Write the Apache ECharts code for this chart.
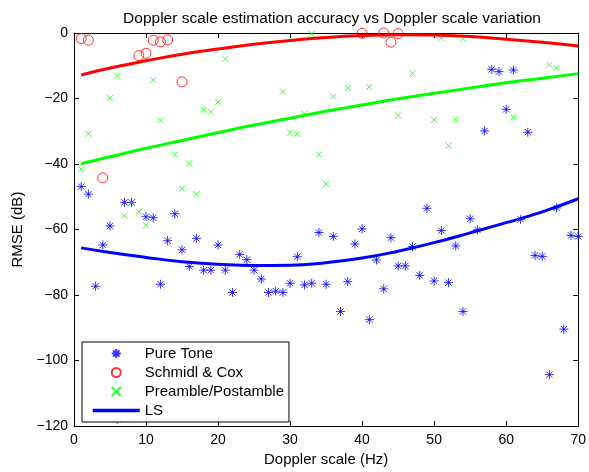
<!DOCTYPE html>
<html>
<head>
<meta charset="utf-8">
<script src="https://cdn.jsdelivr.net/npm/echarts@6/dist/echarts.min.js"></script>
<style>html,body{margin:0;padding:0;background:#fff}#c{width:589px;height:472px}</style>
</head>
<body>
<div id="c"></div>
<script>
// ---- data ----
const pureTone = [[1,-46.9],[2,-49.2],[3,-77.3],[4,-64.7],[5,-58.9],[6,-117.9],[7,-51.7],[8,-51.7],[10,-56.1],[11,-56.4],[12,-76.7],[13,-63.4],[14,-55.2],[15,-66.2],[16,-71.3],[17,-62.7],[18,-72.4],[19,-72.4],[20,-64.7],[21,-72.4],[22,-79.2],[23,-67.6],[24,-69.2],[25,-72.4],[26,-75.1],[27,-79.2],[28,-78.8],[29,-79.2],[30,-76.4],[31,-68.3],[32,-76.9],[33,-76.4],[34,-60.9],[35,-76.7],[36,-62.1],[37,-85],[38,-75.9],[39,-64.4],[40,-59.8],[41,-87.5],[42,-69.3],[43,-78.1],[44,-62.5],[45,-71.1],[46,-71.1],[47,-65.2],[48,-74],[49,-53.5],[50,-75.7],[51,-60.3],[52,-76.2],[53,-65],[54,-85],[55,-56.7],[56,-60.1],[57,-29.9],[58,-11.1],[59,-11.8],[60,-23.3],[61,-11.3],[62,-56.9],[63,-30.3],[64,-67.9],[65,-68.2],[66,-104.3],[67,-53.4],[68,-90.4],[69,-61.8],[70,-62.1]];
const schmidlCox = [[1,-1.7],[2,-2.2],[4,-44.2],[9,-6.9],[10,-6.2],[11,-2.2],[12,-2.7],[13,-2.1],[15,-14.9],[40,-0.1],[43,0],[44,-2.8],[45,-0.2]];
const preamble = [[1,-41.6],[2,-30.8],[5,-19.9],[6,-13],[7,-55.8],[8,-51.8],[9,-54.6],[10,-58.7],[11,-14.4],[12,-26.6],[14,-37.1],[15,-47.5],[16,-39.8],[17,-49.2],[18,-23.4],[19,-24],[20,-21.1],[21,-7.9],[29,-17.9],[30,-30.4],[31,-30.8],[32,-24.7],[33,-0.3],[34,-37.1],[35,-46.1],[36,-19.4],[38,-16.8],[41,-16.4],[45,-25.2],[47,-12.3],[50,-26.5],[51,-1.6],[52,-34.4],[53,-26.5],[54,-1.7],[61,-25.8],[66,-9.7],[67,-10.7]];
// LS fitted curves
const lsX = [1,5,10,15,20,25,30,35,40,45,50,55,60,65,70];
const lsPure = [-65.6,-67.0,-68.5,-69.8,-70.6,-71.0,-70.9,-70.1,-68.7,-66.6,-64.0,-61.0,-57.9,-54.6,-50.6];
const lsSchmidl = [-12.8,-10.7,-8.5,-6.5,-4.9,-3.4,-2.3,-1.4,-0.8,-0.5,-0.6,-1.1,-1.9,-2.8,-4.0];
const lsPreamble = [-39.9,-37.8,-35.2,-32.8,-30.4,-28.1,-26.0,-23.9,-22.0,-20.1,-18.4,-16.8,-15.2,-13.8,-12.4];
const xTicks = [0,10,20,30,40,50,60,70];
const yTicks = [-120,-100,-80,-60,-40,-20,0];

const FONT = 'Liberation Sans, Arial, Helvetica, sans-serif';
const zip = (xs, ys) => xs.map((x, i) => [x, ys[i]]);
const fmt = v => String(v).replace('-', '\u2212');

const asterisk = 'path://M0,-1L0,1M-1,0L1,0M-0.7,-0.7L0.7,0.7M-0.7,0.7L0.7,-0.7';
const cross = 'path://M-1,-1L1,1M-1,1L1,-1';

const axisCommon = {
  axisLine: { show: true, onZero: false, lineStyle: { color: '#000', width: 1 } },
  axisTick: { show: true, inside: true, length: 5, lineStyle: { color: '#000' } },
  splitLine: { show: false },
};

const chart = echarts.init(document.getElementById('c'), null, { renderer: 'canvas' });
chart.setOption({
  animation: false,
  backgroundColor: '#fff',
  title: {
    text: 'Doppler scale estimation accuracy vs Doppler scale variation',
    left: 327, textAlign: 'center', top: 6,
    textStyle: { fontFamily: FONT, fontSize: 15.5, fontWeight: 'normal', color: '#000' }
  },
  grid: { left: 74, right: 9, top: 33, bottom: 41, containLabel: false },
  xAxis: [
    Object.assign({}, axisCommon, {
      type: 'value', min: xTicks[0], max: xTicks[xTicks.length - 1], interval: 10,
      position: 'bottom',
      name: 'Doppler scale (Hz)', nameLocation: 'middle', nameGap: 25,
      nameTextStyle: { fontFamily: FONT, fontSize: 15, color: '#000' },
      axisLabel: { fontFamily: FONT, fontSize: 14, color: '#000', margin: 7, formatter: fmt }
    }),
    Object.assign({}, axisCommon, {
      type: 'value', min: xTicks[0], max: xTicks[xTicks.length - 1], interval: 10,
      position: 'top', axisLabel: { show: false }
    })
  ],
  yAxis: [
    Object.assign({}, axisCommon, {
      type: 'value', min: yTicks[0], max: yTicks[yTicks.length - 1], interval: 20,
      position: 'left',
      name: 'RMSE (dB)', nameLocation: 'middle', nameGap: 47,
      nameTextStyle: { fontFamily: FONT, fontSize: 15, color: '#000' },
      axisLabel: { fontFamily: FONT, fontSize: 14, color: '#000', margin: 6, formatter: fmt }
    }),
    Object.assign({}, axisCommon, {
      type: 'value', min: yTicks[0], max: yTicks[yTicks.length - 1], interval: 20,
      position: 'right', axisLabel: { show: false }
    })
  ],
  legend: {
    orient: 'vertical', left: 82, top: 342,
    padding: [2, 5, 2, 9],
    itemWidth: 47, itemHeight: 9, itemGap: 0,
    backgroundColor: '#fff', borderColor: '#000', borderWidth: 1,
    textStyle: { fontFamily: FONT, fontSize: 15, color: '#000', lineHeight: 19 },
    data: [
      'Pure Tone', 'Schmidl & Cox', 'Preamble/Postamble',
      { name: 'LS', itemStyle: { opacity: 0 }, lineStyle: { width: 3.5 } }
    ]
  },
  series: [
    {
      name: 'Pure Tone', type: 'scatter', data: pureTone, clip: false,
      symbol: asterisk, symbolSize: 9,
      itemStyle: { color: 'rgba(0,0,0,0)', borderColor: '#0000ff', borderWidth: 1 }
    },
    {
      name: 'Schmidl & Cox', type: 'scatter', data: schmidlCox, clip: false,
      symbol: 'circle', symbolSize: 10,
      itemStyle: { color: 'rgba(0,0,0,0)', borderColor: '#ff0000', borderWidth: 1 }
    },
    {
      name: 'Preamble/Postamble', type: 'scatter', data: preamble, clip: false,
      symbol: cross, symbolSize: 6,
      itemStyle: { color: 'rgba(0,0,0,0)', borderColor: '#00ff00', borderWidth: 1 }
    },
    {
      name: 'LS', type: 'line', data: zip(lsX, lsPure), smooth: true, symbol: 'none',
      lineStyle: { color: '#0000ff', width: 3 }, itemStyle: { color: '#0000ff' }
    },
    {
      name: 'LS (Schmidl & Cox)', type: 'line', data: zip(lsX, lsSchmidl), smooth: true, symbol: 'none',
      lineStyle: { color: '#ff0000', width: 3 }, itemStyle: { color: '#ff0000' }
    },
    {
      name: 'LS (Preamble/Postamble)', type: 'line', data: zip(lsX, lsPreamble), smooth: true, symbol: 'none',
      lineStyle: { color: '#00ff00', width: 3 }, itemStyle: { color: '#00ff00' }
    }
  ]
});
</script>
</body>
</html>
